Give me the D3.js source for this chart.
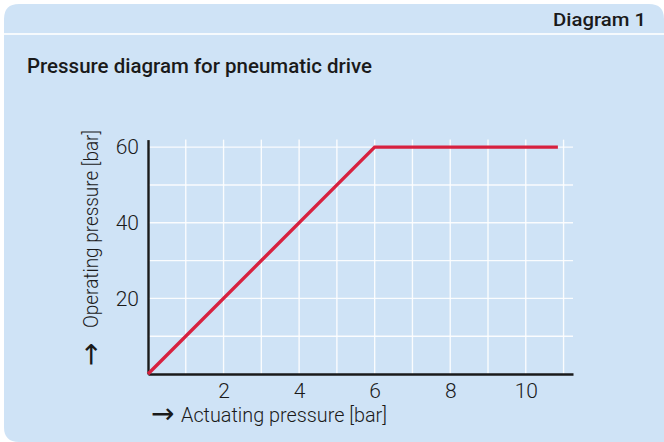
<!DOCTYPE html>
<html>
<head>
<meta charset="utf-8">
<script src="https://cdn.jsdelivr.net/npm/d3@7"></script>
<style>
  body { margin: 0; background: #fff; }
  svg { display: block; }
</style>
</head>
<body>
<svg id="chart" width="664" height="442"></svg>
<script>
// data
var actuating = [0, 6, 10.85];
var operating = [0, 60, 60];
var xTicks = [2, 4, 6, 8, 10];
var yTicks = [20, 40, 60];
var xGrid = [1, 2, 3, 4, 5, 6, 7, 8, 9, 10, 11];
var yGrid = [10, 20, 30, 40, 50, 60];

var bg = "#cfe3f6";
var red = "#d7213f";
var ink = "#1a1a1a";
var font = "Roboto, sans-serif";
var arrowFont = "'DejaVu Sans', sans-serif";

var svg = d3.select("#chart");

// card with rounded corners
svg.append("path")
  .attr("d", "M4,19 Q4,4 19,4 L649,4 Q664,4 664,19 L664,442 L19,442 Q4,442 4,427 Z")
  .attr("fill", bg);
svg.append("rect")
  .attr("x", 4).attr("y", 33).attr("width", 660).attr("height", 2)
  .attr("fill", "#fff").attr("opacity", 0.8);

svg.append("text")
  .attr("x", 646).attr("y", 25.5)
  .attr("text-anchor", "end")
  .attr("font-family", font).attr("font-weight", 500).attr("font-size", 19)
  .attr("textLength", 93).attr("lengthAdjust", "spacingAndGlyphs")
  .attr("fill", ink)
  .text("Diagram 1");

svg.append("text")
  .attr("x", 27).attr("y", 72.5)
  .attr("font-family", font).attr("font-weight", 500).attr("font-size", 19.5)
  .attr("textLength", 345).attr("lengthAdjust", "spacingAndGlyphs")
  .attr("fill", ink)
  .text("Pressure diagram for pneumatic drive");

var x = d3.scaleLinear().domain([0, 11.25]).range([148, 573]);
var y = d3.scaleLinear().domain([0, 62]).range([374, 139.6]);

// grid
svg.selectAll(".vgrid").data(xGrid).enter().append("line")
  .attr("x1", d => x(d)).attr("x2", d => x(d))
  .attr("y1", y(0)).attr("y2", y(62))
  .attr("stroke", "#fff").attr("stroke-width", 1.4).attr("opacity", 0.9);
svg.selectAll(".hgrid").data(yGrid).enter().append("line")
  .attr("x1", x(0)).attr("x2", x(11.25))
  .attr("y1", d => y(d)).attr("y2", d => y(d))
  .attr("stroke", "#fff").attr("stroke-width", 1.4).attr("opacity", 0.9);

// axes
var xAxis = d3.axisBottom(x).tickValues(xTicks).tickSize(0).tickPadding(9);
var yAxis = d3.axisLeft(y).tickValues(yTicks).tickSize(0).tickPadding(9);

var gx = svg.append("g").attr("transform", "translate(0," + y(0) + ")").call(xAxis);
var gy = svg.append("g").attr("transform", "translate(" + x(0) + ",0)").call(yAxis);

[gx, gy].forEach(function(g) {
  g.select(".domain").attr("stroke", ink).attr("stroke-width", 2.4);
  g.selectAll("text")
    .attr("font-family", font).attr("font-weight", 300).attr("font-size", 21)
    .attr("fill", ink);
});

// line
var line = d3.line().x(d => x(d[0])).y(d => y(d[1]));
svg.append("path")
  .datum(d3.zip(actuating, operating))
  .attr("d", line)
  .attr("fill", "none")
  .attr("stroke", red).attr("stroke-width", 3.4);

// axis titles
svg.append("text")
  .attr("x", 151).attr("y", 423)
  .attr("font-family", arrowFont).attr("font-size", 28)
  .attr("fill", ink)
  .text("\u2192");
svg.append("text")
  .attr("x", 181).attr("y", 421.5)
  .attr("font-family", font).attr("font-weight", 300).attr("font-size", 21)
  .attr("textLength", 206).attr("lengthAdjust", "spacingAndGlyphs")
  .attr("fill", ink)
  .text("Actuating pressure [bar]");

var gt = svg.append("g").attr("transform", "translate(98,328) rotate(-90)");
gt.append("text")
  .attr("x", -38).attr("y", 1.5)
  .attr("font-family", arrowFont).attr("font-size", 28)
  .attr("fill", ink)
  .text("\u2192");
gt.append("text")
  .attr("x", 0).attr("y", 0)
  .attr("font-family", font).attr("font-weight", 300).attr("font-size", 21)
  .attr("textLength", 198).attr("lengthAdjust", "spacingAndGlyphs")
  .attr("fill", ink)
  .text("Operating pressure [bar]");
</script>
</body>
</html>
